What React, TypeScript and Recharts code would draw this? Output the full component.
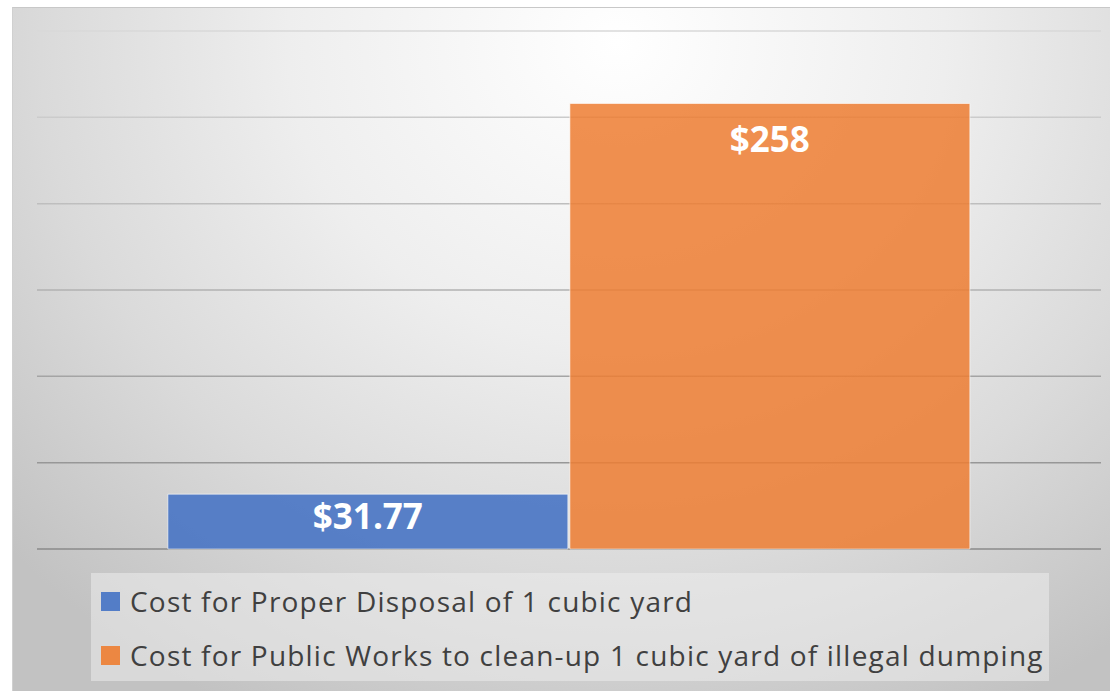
import { Bar, BarChart, CartesianGrid, LabelList, XAxis, YAxis } from 'recharts';

// single category, two series side by side
const categories = ['Cost'];
const seriesNames = [
  'Cost for Proper Disposal of 1 cubic yard',
  'Cost for Public Works to clean-up 1 cubic yard of illegal dumping',
];
const properDisposal = [31.77];
const publicWorks = [258];
const yTicks = [0, 50, 100, 150, 200, 250, 300];
const valueLabels = ['$31.77', '$258'];

const BLUE = '#4472C4';
const ORANGE = '#ED7D31';
const TEXT = '#404040';
const FONT = '"Open Sans", "Noto Sans", sans-serif';

const data = categories.map((c, i) => ({
  name: c,
  a: properDisposal[i],
  b: publicWorks[i],
}));

function LegendBox() {
  const items = [
    { name: seriesNames[0], color: BLUE },
    { name: seriesNames[1], color: ORANGE },
  ];
  return (
    <div
      style={{
        position: 'absolute',
        left: 78,
        top: 565,
        width: 958,
        height: 108,
        background: 'rgba(236,236,236,0.55)',
        boxSizing: 'border-box',
        paddingLeft: 10,
        paddingTop: 1,
        fontFamily: FONT,
      }}
    >
      {items.map((it) => (
        <div
          key={it.name}
          style={{ display: 'flex', alignItems: 'center', height: 54 }}
        >
          <span
            style={{
              display: 'inline-block',
              width: 19,
              height: 19,
              background: it.color,
              opacity: 0.9,
              marginRight: 10,
              flexShrink: 0,
            }}
          />
          <span
            style={{
              fontSize: 28,
              letterSpacing: 1.2,
              color: TEXT,
              whiteSpace: 'nowrap',
            }}
          >
            {it.name}
          </span>
        </div>
      ))}
    </div>
  );
}

export default function App() {
  return (
    <div
      style={{
        position: 'absolute',
        left: 12,
        top: 7,
        width: 1098,
        height: 684,
        borderTop: '1px solid #c8c8c8',
        borderLeft: '1px solid #d0d0d0',
        background:
          'radial-gradient(ellipse 75% 110% at 55% 5%, #ffffff 0%, #eeeeee 40%, #dadada 70%, #c2c2c2 100%)',
      }}
    >
      <BarChart
        width={1098}
        height={684}
        data={data}
        margin={{ top: 23, right: 10, left: 24, bottom: 143 }}
        barCategoryGap="12.3%"
        barGap={2}
      >
        <defs>
          <linearGradient id="gridStroke" gradientUnits="userSpaceOnUse" x1="0" y1="0" x2="0" y2="541">
            <stop offset="0%" stopColor="#dcdcdc" />
            <stop offset="100%" stopColor="#8a8a8a" />
          </linearGradient>
        </defs>
        <CartesianGrid vertical={false} stroke="url(#gridStroke)" strokeWidth={1.5} />
        <XAxis dataKey="name" hide />
        <YAxis hide domain={[0, 300]} ticks={yTicks} />
        <Bar
          dataKey="a"
          name={seriesNames[0]}
          fill={BLUE}
          fillOpacity={0.88}
          stroke="#ffffff"
          strokeOpacity={0.6}
          isAnimationActive={false}
        >
          <LabelList
            dataKey="a"
            position="insideTop"
            offset={10}
            formatter={() => valueLabels[0]}
            fill="#ffffff"
            fontSize={35}
            fontWeight={700}
            fontFamily={FONT}
          />
        </Bar>
        <Bar
          dataKey="b"
          name={seriesNames[1]}
          fill={ORANGE}
          fillOpacity={0.85}
          stroke="#ffffff"
          strokeOpacity={0.6}
          isAnimationActive={false}
        >
          <LabelList
            dataKey="b"
            position="insideTop"
            offset={24}
            formatter={() => valueLabels[1]}
            fill="#ffffff"
            fontSize={35}
            fontWeight={700}
            fontFamily={FONT}
          />
        </Bar>
      </BarChart>
      <LegendBox />
    </div>
  );
}
